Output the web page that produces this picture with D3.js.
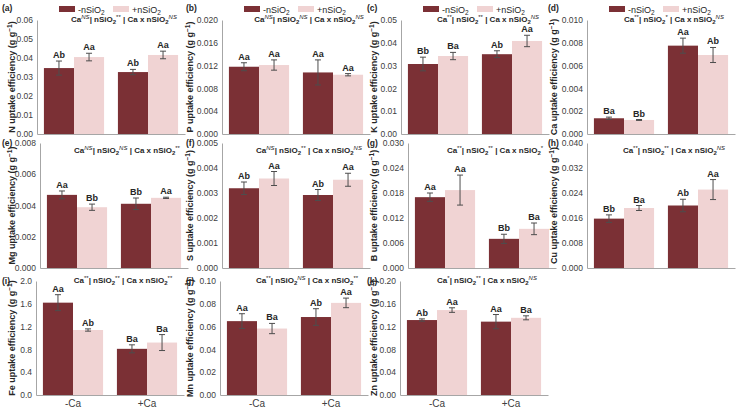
<!DOCTYPE html>
<html>
<head>
<meta charset="utf-8">
<script src="https://cdn.jsdelivr.net/npm/d3@7"></script>
<style>
  body { margin: 0; background: #fff; }
  svg { display: block; font-family: "Liberation Sans", Arial, sans-serif; }
</style>
</head>
<body>
<svg id="chart" width="736" height="410"></svg>
<script>
// ---- data ----
const panelTags = ["(a)","(b)","(c)","(d)","(e)","(f)","(g)","(h)","(i)","(j)","(k)"];
const nutrients = ["N","P","K","Ca","Mg","S","B","Cu","Fe","Mn","Zn"];
const caLevels = ["-Ca", "+Ca"];
const seriesNames = ["-nSiO2", "+nSiO2"];

// means per panel: [-Ca, +Ca]
const meanMinusSi = [[0.0347,0.0326],[0.0118,0.0108],[0.0307,0.0350],[0.00138,0.00775],
  [0.00468,0.00411],[0.00319,0.00292],[0.0170,0.0070],[0.0158,0.0200],
  [1.62,0.81],[0.0648,0.0684],[0.1315,0.1287]];
const meanPlusSi = [[0.0405,0.0416],[0.0121,0.0104],[0.0342,0.0408],[0.00123,0.00693],
  [0.00389,0.00449],[0.00358,0.00353],[0.0187,0.0094],[0.0192,0.0251],
  [1.14,0.92],[0.0583,0.0808],[0.149,0.1354]];
const errMinusSi = [[0.0037,0.0014],[0.0007,0.0022],[0.0030,0.0015],[0.0001,0.00066],
  [0.00025,0.00037],[0.00025,0.00022],[0.0010,0.0011],[0.0012,0.0020],
  [0.14,0.07],[0.0065,0.0073],[0.002,0.0125]];
const errPlusSi = [[0.002,0.002],[0.0009,0.0002],[0.0016,0.0025],[0.00004,0.00066],
  [0.0002,0.00004],[0.00028,0.00026],[0.0036,0.0014],[0.0008,0.0032],
  [0.02,0.14],[0.0045,0.0042],[0.004,0.0035]];
const lettersMinusSi = [["Ab","Ab"],["Aa","Aa"],["Bb","Ab"],["Ba","Aa"],["Aa","Bb"],["Ab","Ab"],
  ["Aa","Bb"],["Bb","Ab"],["Aa","Ba"],["Aa","Ab"],["Ab","Aa"]];
const lettersPlusSi = [["Aa","Aa"],["Aa","Aa"],["Ba","Aa"],["Bb","Ab"],["Bb","Aa"],["Aa","Aa"],
  ["Aa","Ba"],["Ba","Aa"],["Ab","Ba"],["Ba","Aa"],["Aa","Ba"]];

const yMax = [0.06,0.020,0.05,0.010,0.008,0.005,0.030,0.040,2.0,0.10,0.20];
const yStep = [0.01,0.004,0.01,0.002,0.002,0.001,0.006,0.008,0.4,0.02,0.04];
const yDigits = [2,3,2,3,3,3,3,3,1,2,2];

// ANOVA significance: Ca | nSiO2 | Ca x nSiO2
const caSig = ["NS","NS","**","**","NS","NS","**","**","**","**","*"];
const siSig = ["**","NS","**","*","NS","**","**","**","**","NS","**"];
const intSig = ["NS","NS","NS","NS","**","NS","*","NS","**","**","NS"];

// ---- layout ----
const colX = [0, 185, 370, 550];
const tagX = [2, 186, 367, 548];
const titleX = [15, 193, 377, 557];
const plotLeft = [37, 222, 401, 587, 40, 222, 408, 587, 36, 220, 400];
const plotW = 148;
const rowTop = [20, 143, 281];
const rowBottom = [134, 268, 395];
const darkCol = "#7b3035";
const lightCol = "#f0d3d3";
const axisCol = "#a6a6a6";
const textCol = "#404040";

const svg = d3.select("#chart");

function addSup(sel, txt, italic){
  sel.append("tspan").attr("dy", -3.5).attr("font-size", 6)
    .attr("font-style", italic ? "italic" : null)
    .attr("font-weight", "normal").text(txt);
}

function sigText(g, x, y, i){
  const t = g.append("text").attr("x", x).attr("y", y).attr("text-anchor", "middle")
    .attr("font-size", 8).attr("font-weight", "bold").attr("fill", "#262626");
  t.append("tspan").text("Ca");
  addSup(t, caSig[i], caSig[i] === "NS");
  t.append("tspan").attr("dy", 3.5).text("| nSiO");
  t.append("tspan").attr("dy", 2).attr("font-size", 6).text("2");
  t.append("tspan").attr("dy", -5.5).attr("font-size", 6).attr("font-weight", "normal")
    .attr("font-style", siSig[i] === "NS" ? "italic" : null).text(siSig[i]);
  t.append("tspan").attr("dy", 3.5).text(" | Ca x nSiO");
  t.append("tspan").attr("dy", 2).attr("font-size", 6).text("2");
  t.append("tspan").attr("dy", -5.5).attr("font-size", 6).attr("font-weight", "normal")
    .attr("font-style", intSig[i] === "NS" ? "italic" : null).text(intSig[i]);
}

nutrients.forEach((nut, i) => {
  const row = Math.floor(i / 4), col = i % 4;
  const L = plotLeft[i];
  const top = rowTop[row], bottom = rowBottom[row];
  const g = svg.append("g");

  const y = d3.scaleLinear().domain([0, yMax[i]]).range([bottom, top]);
  const x0 = d3.scaleBand().domain(caLevels).range([L, L + plotW]);
  const x1 = d3.scaleBand().domain(seriesNames).range([0, x0.bandwidth()]).paddingOuter(0.23);

  const ticks = d3.range(0, yMax[i] + yStep[i] / 2, yStep[i]);
  const yAxis = d3.axisLeft(y).tickValues(ticks).tickSize(0).tickPadding(4)
    .tickFormat(d3.format("." + yDigits[i] + "f"));
  const ya = g.append("g").attr("transform", `translate(${L},0)`).call(yAxis);
  ya.select(".domain").attr("stroke", axisCol);
  ya.selectAll("text").attr("font-size", 8.5).attr("fill", textCol)
    .attr("font-family", "Liberation Sans, Arial, sans-serif");

  const xAxis = d3.axisBottom(x0).tickSize(0).tickPadding(5);
  const xa = g.append("g").attr("transform", `translate(0,${bottom})`).call(xAxis);
  xa.select(".domain").attr("stroke", axisCol);
  xa.selectAll("text").attr("font-size", 10).attr("fill", textCol)
    .attr("font-family", "Liberation Sans, Arial, sans-serif")
    .style("display", row === 2 ? null : "none");

  const recs = [];
  caLevels.forEach((c, k) => {
    recs.push({ca: c, s: seriesNames[0], v: meanMinusSi[i][k], e: errMinusSi[i][k], lab: lettersMinusSi[i][k], col: darkCol});
    recs.push({ca: c, s: seriesNames[1], v: meanPlusSi[i][k], e: errPlusSi[i][k], lab: lettersPlusSi[i][k], col: lightCol});
  });

  g.selectAll("rect.bar").data(recs).join("rect").attr("class", "bar")
    .attr("x", d => x0(d.ca) + x1(d.s))
    .attr("width", x1.bandwidth())
    .attr("y", d => y(d.v))
    .attr("height", d => y(0) - y(d.v))
    .attr("fill", d => d.col);

  const eb = g.selectAll("g.err").data(recs).join("g").attr("class", "err")
    .attr("transform", d => `translate(${x0(d.ca) + x1(d.s) + x1.bandwidth() / 2},0)`)
    .attr("stroke", "#4d4d4d").attr("stroke-width", 1);
  eb.append("line").attr("y1", d => y(d.v + d.e)).attr("y2", d => y(d.v - d.e));
  eb.append("line").attr("x1", -3).attr("x2", 3).attr("y1", d => y(d.v + d.e)).attr("y2", d => y(d.v + d.e));
  eb.append("line").attr("x1", -3).attr("x2", 3).attr("y1", d => y(d.v - d.e)).attr("y2", d => y(d.v - d.e));

  g.selectAll("text.lab").data(recs).join("text").attr("class", "lab")
    .attr("x", d => x0(d.ca) + x1(d.s) + x1.bandwidth() / 2)
    .attr("y", d => y(d.v + d.e) - 3)
    .attr("text-anchor", "middle").attr("font-size", 9).attr("font-weight", "bold")
    .attr("fill", "#262626").text(d => d.lab);

  // panel tag
  const tagY = row === 0 ? 11 : top + 3;
  g.append("text").attr("x", tagX[col]).attr("y", tagY)
    .attr("font-size", 8.5).attr("font-weight", "bold").attr("fill", "#262626").text(panelTags[i]);

  // y title
  const yt = g.append("text")
    .attr("transform", `translate(${titleX[col]},${(top + bottom) / 2}) rotate(-90)`)
    .attr("text-anchor", "middle").attr("font-size", 9).attr("font-weight", "bold").attr("fill", "#262626");
  yt.append("tspan").text(nut + " uptake efficiency (g g");
  yt.append("tspan").attr("dy", -3.5).attr("font-size", 6.5).text("\u22121");
  yt.append("tspan").attr("dy", 3.5).text(")");

  // significance line
  const sigY = row === 1 ? top + 10 : top + 2;
  sigText(g, L + 87, sigY, i);

  // legend (top row only)
  if (row === 0) {
    const lg = g.append("g").attr("transform", `translate(${L},0)`);
    [[22, darkCol, "-nSiO"], [76, lightCol, "+nSiO"]].forEach(([dx, c, t]) => {
      lg.append("rect").attr("x", dx).attr("y", 6).attr("width", 16).attr("height", 6).attr("fill", c);
      const tx = lg.append("text").attr("x", dx + 19).attr("y", 12.5)
        .attr("font-size", 9).attr("fill", "#262626");
      tx.append("tspan").text(t);
      tx.append("tspan").attr("dy", 2).attr("font-size", 6.5).text("2");
    });
  }
});
</script>
</body>
</html>
